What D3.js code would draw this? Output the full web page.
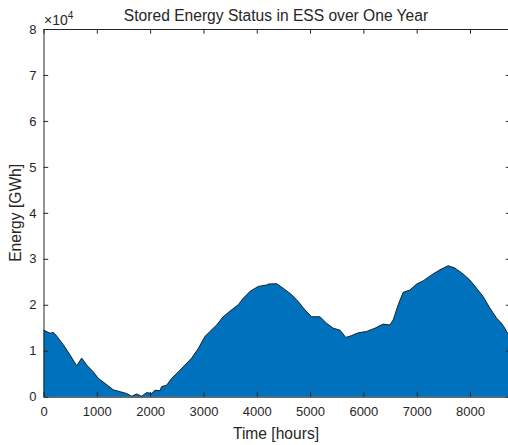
<!DOCTYPE html>
<html>
<head>
<meta charset="utf-8">
<script src="https://cdn.jsdelivr.net/npm/d3@7"></script>
<style>
  body { margin: 0; background: #fff; }
  text { font-family: Arial, "Liberation Sans", sans-serif; fill: #262626; }
</style>
</head>
<body>
<div id="chart"></div>
<script>
// stored energy (hours, GWh)
const hours = [0, 122, 184, 248, 371, 497, 623, 716, 810, 934, 1028, 1153, 1309, 1434, 1560, 1654,
  1748, 1841, 1935, 2029, 2091, 2184, 2216, 2310, 2404, 2528, 2653, 2779, 2903, 3028, 3122, 3248,
  3371, 3529, 3653, 3746, 3872, 4028, 4185, 4215, 4373, 4496, 4654, 4778, 4903, 5029, 5184, 5310,
  5434, 5559, 5672, 5779, 5903, 6060, 6216, 6371, 6497, 6559, 6653, 6746, 6872, 6998, 7121, 7279,
  7434, 7590, 7716, 7871, 7997, 8123, 8246, 8372, 8498, 8591, 8653, 8704, 8760]
const energy = [14500, 13800, 14000, 13200, 11300, 9100, 6700, 8400, 6900, 5400, 4000, 2900, 1500, 1100, 700, 100,
  600, 100, 900, 700, 1400, 1300, 2200, 2500, 4000, 5400, 6900, 8400, 10500, 13100, 14200, 15600,
  17400, 18900, 20000, 21400, 22900, 24000, 24300, 24500, 24600, 23600, 22200, 20700, 18900, 17400, 17400, 16000,
  14900, 14500, 12900, 13300, 13900, 14200, 14900, 15800, 15600, 16700, 20000, 22700, 23200, 24500, 25200, 26500,
  27600, 28500, 28000, 26700, 25400, 23600, 21800, 19300, 17100, 16000, 14900, 13800, 13500]

const xTicks = [0, 1000, 2000, 3000, 4000, 5000, 6000, 7000, 8000]
const yTicks = [0, 10000, 20000, 30000, 40000, 50000, 60000, 70000, 80000]

const w = 508
const h = 445
const mLeft = 43.5, mRight = 510.5, mTop = 29, mBottom = 396.7

const x = d3.scaleLinear().domain([0, 8760]).range([mLeft, mRight])
const y = d3.scaleLinear().domain([0, 80000]).range([mBottom, mTop])

const svg = d3.select('#chart').append('svg')
  .attr('width', w)
  .attr('height', h)

const pts = hours.map((t, i) => [t, energy[i]])

// filled area
svg.append('path')
  .datum(pts)
  .attr('d', d3.area().x(d => x(d[0])).y0(y(0)).y1(d => y(d[1])))
  .attr('fill', '#0072BD')

// outline of the area
svg.append('path')
  .datum(pts)
  .attr('d', d3.line().x(d => x(d[0])).y(d => y(d[1])))
  .attr('fill', 'none')
  .attr('stroke', '#111')
  .attr('stroke-width', 0.9)

// axes, ticks point inward (matlab style)
const tl = 4.7
const axisBottom = svg.append('g').attr('transform', `translate(0,${mBottom})`)
  .call(d3.axisBottom(x).tickValues(xTicks).tickSizeInner(-tl).tickSizeOuter(0).tickPadding(10)
    .tickFormat(d3.format('d')))
const axisTop = svg.append('g').attr('transform', `translate(0,${mTop})`)
  .call(d3.axisTop(x).tickValues(xTicks).tickSizeInner(-tl).tickSizeOuter(0).tickFormat(''))
const axisLeft = svg.append('g').attr('transform', `translate(${mLeft},0)`)
  .call(d3.axisLeft(y).tickValues(yTicks).tickSizeInner(-tl).tickSizeOuter(0).tickPadding(7)
    .tickFormat(d => d / 10000))
const axisRight = svg.append('g').attr('transform', `translate(${mRight},0)`)
  .call(d3.axisRight(y).tickValues(yTicks).tickSizeInner(-tl).tickSizeOuter(0).tickFormat(''))

;[axisBottom, axisTop, axisLeft, axisRight].forEach(a => {
  a.select('.domain').attr('stroke', '#262626').attr('stroke-width', 1)
  a.selectAll('.tick line').attr('stroke', '#262626').attr('stroke-width', 1)
  a.selectAll('.tick text').attr('font-size', 13).attr('fill', '#262626')
    .attr('font-family', 'Arial, "Liberation Sans", sans-serif')
})

// exponent label
const ex = svg.append('text').attr('x', 44).attr('y', 25).attr('font-size', 14)
ex.append('tspan').text('\u00d710')
ex.append('tspan').attr('dy', -6).attr('font-size', 10).text('4')

// title
svg.append('text')
  .attr('x', (mLeft + mRight) / 2 - 1)
  .attr('y', 21)
  .attr('text-anchor', 'middle')
  .attr('font-size', 15.6)
  .text('Stored Energy Status in ESS over One Year')

// x label
svg.append('text')
  .attr('x', 276)
  .attr('y', 439)
  .attr('text-anchor', 'middle')
  .attr('font-size', 15.6)
  .text('Time [hours]')

// y label
svg.append('text')
  .attr('transform', `translate(21,${(mTop + mBottom) / 2}) rotate(-90)`)
  .attr('text-anchor', 'middle')
  .attr('font-size', 15.6)
  .text('Energy [GWh]')
</script>
</body>
</html>
